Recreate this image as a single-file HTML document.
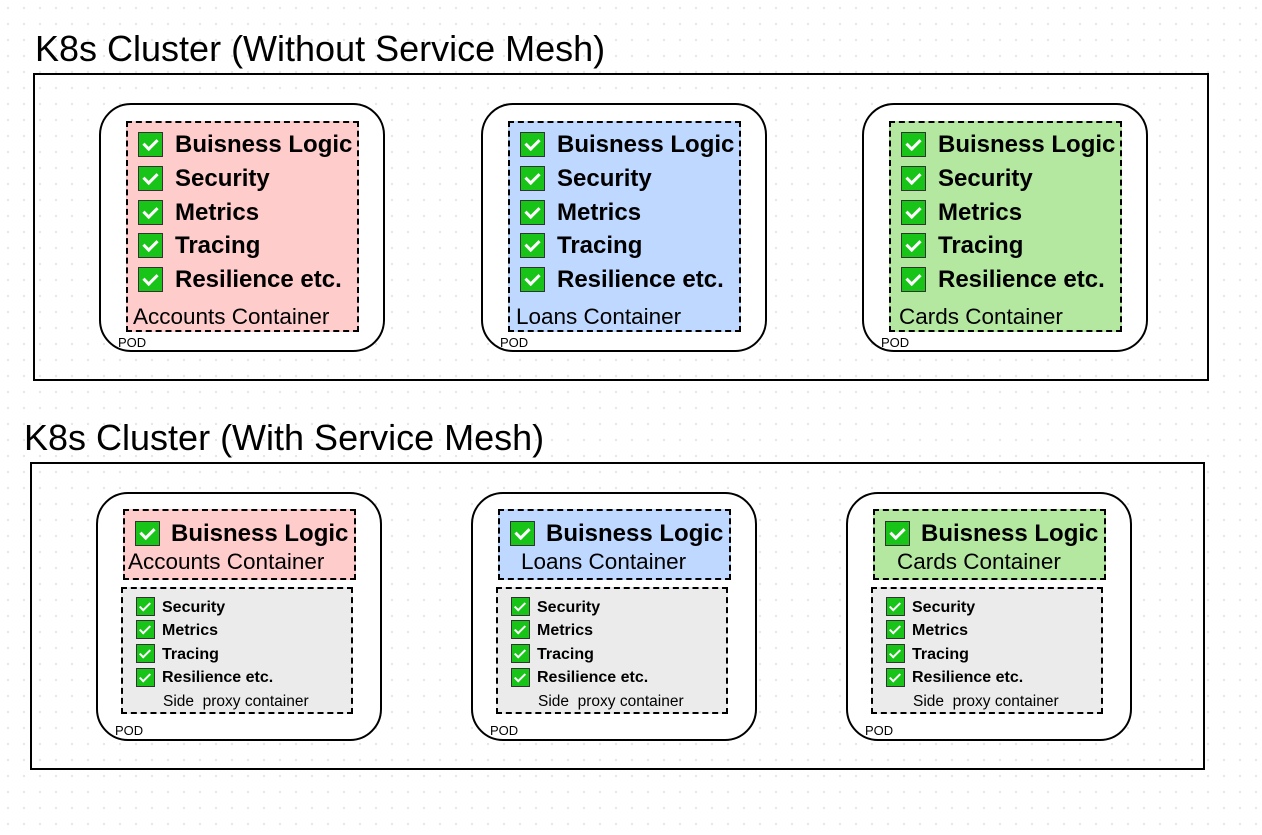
<!DOCTYPE html>
<html><head><meta charset="utf-8"><style>
body{margin:0;width:1262px;height:835px;position:relative;background:#fff;background-image:radial-gradient(#e4e4e4 1px,transparent 1.2px);background-size:16px 16px;font-family:"Liberation Sans",sans-serif;overflow:hidden}
.a{position:absolute}
.t{font-size:36px;color:#000;white-space:nowrap}
.fr{border:2px solid #000;box-sizing:border-box}
.pod{border:2px solid #000;border-radius:32px;box-sizing:border-box;width:286px;height:249px;background:#fff}
.c{border:2px dashed #000;box-sizing:border-box}
.cb{position:absolute;width:25px;height:25px;background:#18c418;border:1.5px solid #333;box-sizing:border-box}
.cb::after{content:"";position:absolute;left:7px;top:3px;width:6px;height:11px;border:solid #fff;border-width:0 3px 3px 0;transform:rotate(45deg)}
.sb{width:19px;height:19px}
.sb::after{left:5px;top:2px;width:4px;height:9px;border-width:0 2px 2px 0}
.bl{position:absolute;font-weight:bold;font-size:24px;white-space:nowrap;line-height:28px}
.sl{position:absolute;font-weight:bold;font-size:16px;white-space:nowrap;line-height:20px}
.lbl{position:absolute;font-size:22.5px;white-space:nowrap;line-height:24px}
.pl{position:absolute;font-size:13px;line-height:14px}
.sp{position:absolute;font-size:15.5px;line-height:16px;white-space:nowrap}
</style></head><body>
<div class="a t" style="left:35px;top:28px">K8s Cluster (Without Service Mesh)</div>
<div class="a fr" style="left:33px;top:73px;width:1176px;height:308px"></div>
<div class="a t" style="left:24px;top:417px">K8s Cluster (With Service Mesh)</div>
<div class="a fr" style="left:30px;top:462px;width:1175px;height:308px"></div>

<!-- top pods -->
<div class="a" style="left:99px;top:103px">
<div class="a pod" style="left:0;top:0"></div>
<div class="a c" style="left:27px;top:18px;width:233px;height:211px;background:#ffcccc"></div>
<div class="cb" style="left:39px;top:29px"></div><div class="bl" style="left:76px;top:28px">Buisness Logic</div>
<div class="cb" style="left:39px;top:63px"></div><div class="bl" style="left:76px;top:62px">Security</div>
<div class="cb" style="left:39px;top:97px"></div><div class="bl" style="left:76px;top:96px">Metrics</div>
<div class="cb" style="left:39px;top:130px"></div><div class="bl" style="left:76px;top:129px">Tracing</div>
<div class="cb" style="left:39px;top:164px"></div><div class="bl" style="left:76px;top:163px">Resilience etc.</div>
<div class="lbl" style="left:34px;top:202px">Accounts Container</div>
<div class="pl" style="left:19px;top:233px">POD</div>
</div>
<div class="a" style="left:481px;top:103px">
<div class="a pod" style="left:0;top:0"></div>
<div class="a c" style="left:27px;top:18px;width:233px;height:211px;background:#bfd8ff"></div>
<div class="cb" style="left:39px;top:29px"></div><div class="bl" style="left:76px;top:28px">Buisness Logic</div>
<div class="cb" style="left:39px;top:63px"></div><div class="bl" style="left:76px;top:62px">Security</div>
<div class="cb" style="left:39px;top:97px"></div><div class="bl" style="left:76px;top:96px">Metrics</div>
<div class="cb" style="left:39px;top:130px"></div><div class="bl" style="left:76px;top:129px">Tracing</div>
<div class="cb" style="left:39px;top:164px"></div><div class="bl" style="left:76px;top:163px">Resilience etc.</div>
<div class="lbl" style="left:35px;top:202px">Loans Container</div>
<div class="pl" style="left:19px;top:233px">POD</div>
</div>
<div class="a" style="left:862px;top:103px">
<div class="a pod" style="left:0;top:0"></div>
<div class="a c" style="left:27px;top:18px;width:233px;height:211px;background:#b4e8a0"></div>
<div class="cb" style="left:39px;top:29px"></div><div class="bl" style="left:76px;top:28px">Buisness Logic</div>
<div class="cb" style="left:39px;top:63px"></div><div class="bl" style="left:76px;top:62px">Security</div>
<div class="cb" style="left:39px;top:97px"></div><div class="bl" style="left:76px;top:96px">Metrics</div>
<div class="cb" style="left:39px;top:130px"></div><div class="bl" style="left:76px;top:129px">Tracing</div>
<div class="cb" style="left:39px;top:164px"></div><div class="bl" style="left:76px;top:163px">Resilience etc.</div>
<div class="lbl" style="left:37px;top:202px">Cards Container</div>
<div class="pl" style="left:19px;top:233px">POD</div>
</div>

<!-- bottom pods -->
<div class="a" style="left:96px;top:492px">
<div class="a pod" style="left:0;top:0"></div>
<div class="a c" style="left:27px;top:17px;width:233px;height:71px;background:#ffcccc"></div>
<div class="cb" style="left:39px;top:29px"></div><div class="bl" style="left:75px;top:28px">Buisness Logic</div>
<div class="lbl" style="left:32px;top:58px">Accounts Container</div>
<div class="a c" style="left:25px;top:95px;width:232px;height:127px;background:#ebebeb"></div>
<div class="cb sb" style="left:40px;top:105px"></div><div class="sl" style="left:66px;top:106px">Security</div>
<div class="cb sb" style="left:40px;top:128px"></div><div class="sl" style="left:66px;top:129px">Metrics</div>
<div class="cb sb" style="left:40px;top:152px"></div><div class="sl" style="left:66px;top:153px">Tracing</div>
<div class="cb sb" style="left:40px;top:176px"></div><div class="sl" style="left:66px;top:176px">Resilience etc.</div>
<div class="sp" style="left:67px;top:202px">Side&nbsp; proxy container</div>
<div class="pl" style="left:19px;top:232px">POD</div>
</div>
<div class="a" style="left:471px;top:492px">
<div class="a pod" style="left:0;top:0"></div>
<div class="a c" style="left:27px;top:17px;width:233px;height:71px;background:#bfd8ff"></div>
<div class="cb" style="left:39px;top:29px"></div><div class="bl" style="left:75px;top:28px">Buisness Logic</div>
<div class="lbl" style="left:50px;top:58px">Loans Container</div>
<div class="a c" style="left:25px;top:95px;width:232px;height:127px;background:#ebebeb"></div>
<div class="cb sb" style="left:40px;top:105px"></div><div class="sl" style="left:66px;top:106px">Security</div>
<div class="cb sb" style="left:40px;top:128px"></div><div class="sl" style="left:66px;top:129px">Metrics</div>
<div class="cb sb" style="left:40px;top:152px"></div><div class="sl" style="left:66px;top:153px">Tracing</div>
<div class="cb sb" style="left:40px;top:176px"></div><div class="sl" style="left:66px;top:176px">Resilience etc.</div>
<div class="sp" style="left:67px;top:202px">Side&nbsp; proxy container</div>
<div class="pl" style="left:19px;top:232px">POD</div>
</div>
<div class="a" style="left:846px;top:492px">
<div class="a pod" style="left:0;top:0"></div>
<div class="a c" style="left:27px;top:17px;width:233px;height:71px;background:#b4e8a0"></div>
<div class="cb" style="left:39px;top:29px"></div><div class="bl" style="left:75px;top:28px">Buisness Logic</div>
<div class="lbl" style="left:51px;top:58px">Cards Container</div>
<div class="a c" style="left:25px;top:95px;width:232px;height:127px;background:#ebebeb"></div>
<div class="cb sb" style="left:40px;top:105px"></div><div class="sl" style="left:66px;top:106px">Security</div>
<div class="cb sb" style="left:40px;top:128px"></div><div class="sl" style="left:66px;top:129px">Metrics</div>
<div class="cb sb" style="left:40px;top:152px"></div><div class="sl" style="left:66px;top:153px">Tracing</div>
<div class="cb sb" style="left:40px;top:176px"></div><div class="sl" style="left:66px;top:176px">Resilience etc.</div>
<div class="sp" style="left:67px;top:202px">Side&nbsp; proxy container</div>
<div class="pl" style="left:19px;top:232px">POD</div>
</div>
</body></html>
